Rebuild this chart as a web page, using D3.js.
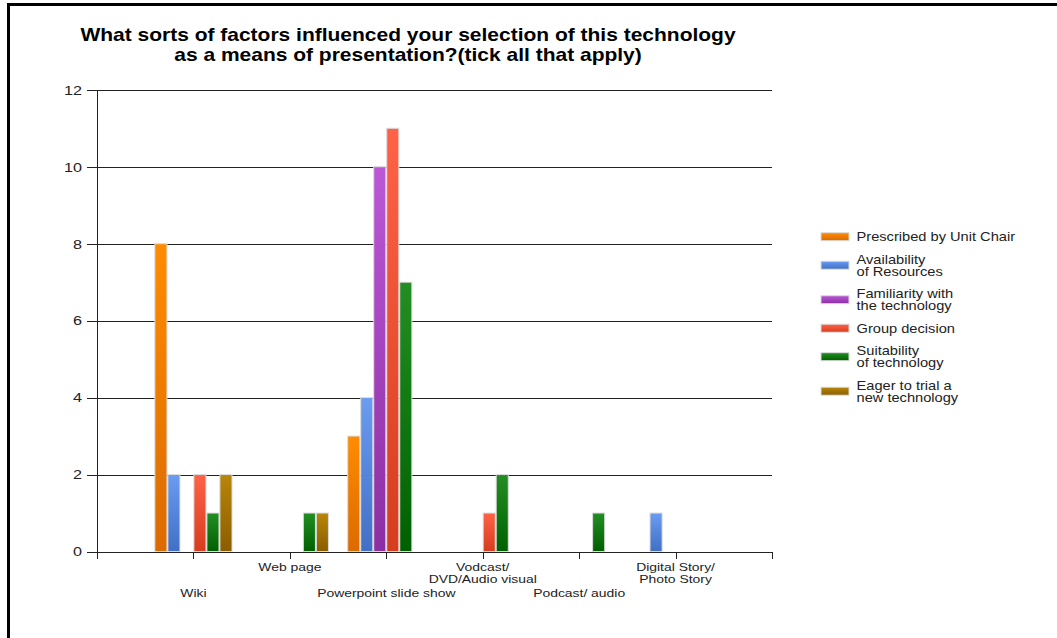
<!DOCTYPE html>
<html>
<head>
<meta charset="utf-8">
<script src="https://cdn.jsdelivr.net/npm/d3@7"></script>
<style>
  html, body { margin: 0; padding: 0; background: #fff; }
  svg { display: block; font-family: "Liberation Sans", Arial, sans-serif; }
</style>
</head>
<body>
<svg id="chart" width="1057" height="638"></svg>
<script>
// ---- data ----
const titleLines = [
  "What sorts of factors influenced your selection of this technology",
  "as a means of presentation?(tick all that apply)"
];
const categories = [
  "Wiki",
  "Web page",
  "Powerpoint slide show",
  "Vodcast/\nDVD/Audio visual",
  "Podcast/ audio",
  "Digital Story/\nPhoto Story"
];
const seriesNames = [
  "Prescribed by Unit Chair",
  "Availability\nof Resources",
  "Familiarity with\nthe technology",
  "Group decision",
  "Suitability\nof technology",
  "Eager to trial a\nnew technology"
];
const prescribedByUnitChair   = [8, 0, 3, 0, 0, 0];
const availabilityOfResources = [2, 0, 4, 0, 0, 1];
const familiarityWithTech     = [0, 0, 10, 0, 0, 0];
const groupDecision           = [2, 0, 11, 1, 0, 0];
const suitabilityOfTech       = [1, 1, 7, 2, 1, 0];
const eagerToTrial            = [2, 1, 0, 0, 0, 0];
const seriesValues = [
  prescribedByUnitChair, availabilityOfResources, familiarityWithTech,
  groupDecision, suitabilityOfTech, eagerToTrial
];
const yTicks = [0, 2, 4, 6, 8, 10, 12];

// bar colours: lighter at the top, darker at the base
const colorTop    = ["#ff8c00", "#6a9cf0", "#bb58d6", "#ff6347", "#238e23", "#b8860b"];
const colorBottom = ["#dc6a00", "#416fc6", "#8c2ea3", "#d63c1e", "#006000", "#8a5d00"];

// ---- layout ----
const SX = 1.2;            // horizontal text stretch
const textColor = "#222";
const lineColor = "#222";
const plotLeft = 97, plotRight = 772, plotBottom = 551.5, plotTop = 89.8;

const svg = d3.select("#chart");

// frame on the left and top edges
svg.append("path")
  .attr("d", "M8.5,638 V4.5 H1057")
  .attr("fill", "none")
  .attr("stroke", "#000")
  .attr("stroke-width", 3);

// gradients
const defs = svg.append("defs");
seriesNames.forEach((s, i) => {
  const g = defs.append("linearGradient")
    .attr("id", "grad" + i)
    .attr("x1", 0).attr("y1", 0).attr("x2", 0).attr("y2", 1);
  g.append("stop").attr("offset", "0%").attr("stop-color", colorTop[i]);
  g.append("stop").attr("offset", "100%").attr("stop-color", colorBottom[i]);
});

function stretchedText(parent, x, y, str, size, anchor, weight) {
  return parent.append("text")
    .attr("transform", `translate(${x},${y}) scale(${SX},1)`)
    .attr("font-size", size)
    .attr("font-weight", weight || "normal")
    .attr("text-anchor", anchor)
    .attr("fill", textColor)
    .text(str);
}

// title
const titleG = svg.append("g");
stretchedText(titleG, 408, 41, titleLines[0], 17.5, "middle", "bold").attr("fill", "#000");
stretchedText(titleG, 408, 61, titleLines[1], 17.5, "middle", "bold").attr("fill", "#000");

// scales
const x = d3.scalePoint().domain(categories).range([plotLeft, plotRight]).padding(1);
const step = x.step();
const inner = d3.scaleBand().domain(seriesNames).range([-step * 0.4, step * 0.4]).paddingInner(0.07);
const y = d3.scaleLinear().domain([0, 12]).range([plotBottom, plotTop]);

// gridlines
const grid = svg.append("g")
  .attr("transform", `translate(${plotLeft},0)`)
  .call(d3.axisLeft(y).tickValues(yTicks).tickSize(-(plotRight - plotLeft)).tickFormat(""));
grid.select(".domain").remove();
grid.selectAll("line").attr("stroke", lineColor).attr("shape-rendering", "crispEdges");

// y axis with labels
const yAxis = svg.append("g")
  .attr("transform", `translate(${plotLeft},0)`)
  .call(d3.axisLeft(y).tickValues(yTicks).tickSizeInner(10).tickSizeOuter(0));
yAxis.select(".domain").attr("stroke", lineColor).attr("shape-rendering", "crispEdges");
yAxis.selectAll("line").attr("stroke", lineColor).attr("shape-rendering", "crispEdges");
yAxis.selectAll("text")
  .attr("x", -15 / SX)
  .attr("transform", `scale(${SX},1)`)
  .attr("font-size", 13.5)
  .attr("font-family", "'Liberation Sans', Arial, sans-serif")
  .attr("fill", textColor);

// bars
const barsG = svg.append("g");
categories.forEach((cat, ci) => {
  seriesNames.forEach((s, si) => {
    const v = seriesValues[si][ci];
    if (!v) return;
    barsG.append("rect")
      .attr("x", x(cat) + inner(s))
      .attr("y", y(v))
      .attr("width", inner.bandwidth())
      .attr("height", y(0) - y(v))
      .attr("fill", `url(#grad${si})`)
      .attr("stroke", "#dcdcdc")
      .attr("stroke-width", 1);
  });
});

// x axis
const xAxis = svg.append("g")
  .attr("transform", `translate(0,${plotBottom})`)
  .call(d3.axisBottom(x).tickSizeInner(7).tickSizeOuter(7).tickFormat(""));
xAxis.select(".domain").attr("stroke", lineColor).attr("shape-rendering", "crispEdges");
xAxis.selectAll("line").attr("stroke", lineColor).attr("shape-rendering", "crispEdges");

// category labels, staggered on two rows
const catG = svg.append("g");
categories.forEach((cat, ci) => {
  const lines = cat.split("\n");
  const baseY = ci % 2 === 1 ? 571 : 597;
  lines.forEach((ln, li) => {
    stretchedText(catG, x(cat), baseY + li * 12, ln, 11.6, "middle");
  });
});

// legend
const legendG = svg.append("g");
let cy = 236.7;
seriesNames.forEach((s, i) => {
  const lines = s.split("\n");
  if (i > 0) {
    const prevLines = seriesNames[i - 1].split("\n").length;
    cy += prevLines * 6 + 10.5 + lines.length * 6;
  }
  legendG.append("rect")
    .attr("x", 821).attr("y", cy - 4)
    .attr("width", 28).attr("height", 8)
    .attr("fill", `url(#grad${i})`)
    .attr("stroke", "#dcdcdc").attr("stroke-width", 1);
  const firstCenter = cy - (lines.length - 1) * 6;
  lines.forEach((ln, li) => {
    stretchedText(legendG, 856.5, firstCenter + li * 12 + 4.3, ln, 12.2, "start");
  });
});
</script>
</body>
</html>
